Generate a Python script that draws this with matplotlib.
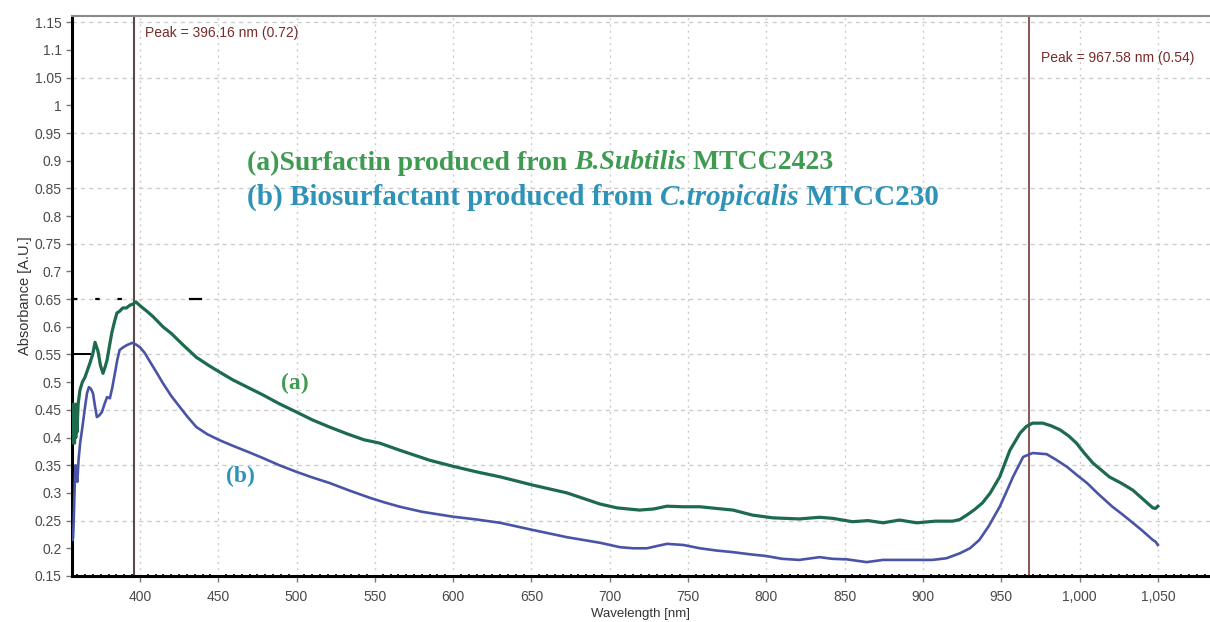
import matplotlib
matplotlib.use("Agg")
import matplotlib.pyplot as plt
from matplotlib.ticker import MultipleLocator, FuncFormatter

# ---- data ----
wl_a = [356.6, 357.0, 357.4, 357.8, 358.2, 358.6, 359.0, 359.4, 359.8, 360.5,
        361.7, 363.2, 364.9, 366.5, 368.0, 369.8, 371.3, 373.2, 374.8, 376.4,
        377.8, 379.0, 380.5, 382.0, 383.8, 385.3, 387.0, 389.0, 391.3, 393.6,
        395.5, 397.4, 400.5, 404.5, 408.5, 414.7, 420, 428, 436, 444,
        451, 459.4, 470, 478.5, 489, 500, 510, 521, 532, 543,
        553, 566, 585, 600, 615, 630, 651, 672.7, 693.7, 704.6,
        719, 728, 736.5, 747, 757.6, 768, 778.7, 791, 804, 821,
        834, 842.5, 855, 865, 874.5, 885, 896, 908, 919, 923.6,
        928, 933, 938, 943, 949, 955.5, 962, 966, 970, 976.6,
        982, 987.5, 993, 998, 1003, 1008.5, 1014, 1019, 1027, 1034,
        1040, 1046.8, 1048.5, 1050]
abs_a = [0.40, 0.46, 0.39, 0.46, 0.39, 0.46, 0.40, 0.46, 0.41, 0.46,
         0.486, 0.50, 0.509, 0.522, 0.534, 0.55, 0.572, 0.556, 0.53, 0.516,
         0.528, 0.54, 0.565, 0.589, 0.61, 0.625, 0.628, 0.634, 0.634, 0.639,
         0.641, 0.645, 0.637, 0.628, 0.618, 0.60, 0.588, 0.566, 0.545, 0.53,
         0.518, 0.504, 0.489, 0.477, 0.461, 0.446, 0.432, 0.419, 0.407, 0.396,
         0.39, 0.377, 0.359, 0.348, 0.338, 0.329, 0.314, 0.30, 0.28, 0.273,
         0.269, 0.271, 0.276, 0.275, 0.275, 0.272, 0.269, 0.26, 0.255, 0.253,
         0.256, 0.254, 0.248, 0.25, 0.246, 0.251, 0.246, 0.249, 0.249, 0.252,
         0.26, 0.27, 0.282, 0.30, 0.329, 0.377, 0.408, 0.42, 0.426, 0.426,
         0.421, 0.414, 0.403, 0.39, 0.372, 0.354, 0.341, 0.329, 0.317, 0.305,
         0.29, 0.273, 0.272, 0.276]

wl_b = [356.9, 357.3, 357.7, 358.1, 358.5, 358.9, 359.4, 360.0, 360.8, 361.8,
        363.0, 364.0, 364.9, 366.2, 367.4, 368.7, 370.0, 371.2, 372.5, 374.0,
        375.7, 377.3, 379.0, 380.8, 382.3, 384.0, 385.5, 387.0, 389.3, 391.7,
        395.0, 397.5, 400.0, 403, 406.4, 410.5, 414.7, 420, 425.5, 430.5,
        436, 443, 451, 459.4, 470, 478.5, 489, 500, 510, 521,
        534, 547, 556, 566, 580, 600, 615, 630, 651, 672.7,
        693.7, 706.5, 715, 723.7, 730, 736.5, 747, 757.6, 768, 778.7,
        790, 800, 810, 821, 834, 842, 851.5, 864, 874.5, 885,
        896, 906, 915, 923.6, 930, 936, 942, 949, 953, 957.5,
        964, 970, 979, 985, 992, 998, 1004.7, 1012, 1021, 1027,
        1034, 1040, 1046.8, 1048.5, 1050]
abs_b = [0.215, 0.22, 0.25, 0.29, 0.33, 0.35, 0.33, 0.32, 0.36, 0.39,
         0.414, 0.435, 0.455, 0.48, 0.491, 0.488, 0.48, 0.458, 0.437, 0.44,
         0.446, 0.46, 0.473, 0.471, 0.49, 0.516, 0.54, 0.558, 0.563, 0.567,
         0.571, 0.568, 0.563, 0.553, 0.537, 0.518, 0.498, 0.475, 0.455, 0.437,
         0.419, 0.406, 0.395, 0.385, 0.373, 0.363, 0.35, 0.338, 0.328, 0.318,
         0.304, 0.291, 0.283, 0.275, 0.266, 0.257, 0.252, 0.246, 0.233, 0.22,
         0.21, 0.202, 0.20, 0.20, 0.204, 0.208, 0.206, 0.20, 0.196, 0.193,
         0.189, 0.186, 0.181, 0.179, 0.184, 0.181, 0.18, 0.175, 0.179, 0.179,
         0.179, 0.179, 0.182, 0.191, 0.20, 0.215, 0.24, 0.275, 0.30, 0.329,
         0.365, 0.372, 0.37, 0.36, 0.347, 0.333, 0.318, 0.298, 0.275, 0.262,
         0.246, 0.232, 0.215, 0.212, 0.206]

peak_wl = [396.16, 967.58]
peak_labels = ["Peak = 396.16 nm (0.72)", "Peak = 967.58 nm (0.54)"]

GREEN_LINE = "#1d6a4c"
BLUE_LINE = "#4a54a6"
GREEN_TXT = "#3f9a52"
BLUE_TXT = "#2f93b8"

fig = plt.figure(figsize=(12.1, 6.22), dpi=100)
ax = fig.add_axes([0.0595, 0.074, 0.9405, 0.9])
ax.set_xlim(356.6, 1083.3)
ax.set_ylim(0.15, 1.161)

# grid: vertical every 50 nm, horizontal every 0.1 (0.25, 0.35, ...)
for x in range(400, 1100, 50):
    ax.axvline(x, color="#cccccc", lw=1, ls=(0, (1.5, 3)), zorder=0)
for i in range(10):
    ax.axhline(0.25 + 0.1 * i, color="#cccccc", lw=1, ls=(0, (3, 3)), zorder=0)

# stray black dashes from the original plot
ax.plot([357, 392], [0.65, 0.65], color="black", lw=1.6, ls=(0, (2, 8)), zorder=1)
ax.plot([432, 439], [0.65, 0.65], color="black", lw=1.6, zorder=1)
ax.plot([357, 368], [0.55, 0.55], color="black", lw=1.4, zorder=1)

ax.plot(wl_a, abs_a, color=GREEN_LINE, lw=2.3, zorder=3)
ax.plot(wl_b, abs_b, color=BLUE_LINE, lw=1.9, zorder=3)

ax.axvline(peak_wl[0], color="#5e4747", lw=1.5, zorder=2)
ax.axvline(peak_wl[1], color="#8c5a5a", lw=1.5, zorder=2)
ax.text(peak_wl[0] + 7, 1.130, peak_labels[0], color="#7a2a2a", fontsize=10,
        family="Liberation Sans", va="center")
ax.text(peak_wl[1] + 8, 1.085, peak_labels[1], color="#7a2a2a", fontsize=10,
        family="Liberation Sans", va="center")

# spines and ticks
ax.spines["left"].set_linewidth(2.2)
ax.spines["bottom"].set_linewidth(2.2)
ax.spines["top"].set_color("#8a8a8a")
ax.spines["top"].set_linewidth(1.5)
ax.spines["right"].set_visible(False)
ax.yaxis.set_major_locator(MultipleLocator(0.05))
ax.xaxis.set_major_locator(MultipleLocator(50))
ax.xaxis.set_minor_locator(MultipleLocator(5))
ax.yaxis.set_major_formatter(FuncFormatter(lambda v, p: f"{v:.2f}".rstrip("0").rstrip(".")))
ax.xaxis.set_major_formatter(FuncFormatter(lambda v, p: f"{v:,.0f}"))
ax.tick_params(axis="both", which="major", labelsize=10, labelcolor="#4a4a4a",
               color="#777777", length=4, width=1)
ax.tick_params(axis="x", which="major", pad=6)
ax.tick_params(axis="x", which="minor", length=3, width=1.2, color="black",
               direction="inout")
for lab in ax.get_xticklabels() + ax.get_yticklabels():
    lab.set_family("Liberation Sans")

ax.set_xlabel("Wavelength [nm]", fontsize=9.5, color="#333333",
              family="Liberation Sans", labelpad=3)
ax.set_ylabel("Absorbance [A.U.]", fontsize=10.5, color="#333333",
              family="Liberation Sans", labelpad=2)

# legend-style caption with italic species names
renderer = fig.canvas.get_renderer()


def rich_line(x0, y0, parts, color, size):
    x = x0
    for txt, style in parts:
        t = fig.text(x, y0, txt, color=color, fontsize=size, weight="bold",
                     style=style, family="Liberation Serif", va="center")
        bb = t.get_window_extent(renderer)
        x += bb.width / fig.bbox.width


rich_line(247 / 1210, 1 - 163 / 622,
          [("(a)Surfactin produced fron ", "normal"), ("B.Subtilis", "italic"),
           (" MTCC2423", "normal")], GREEN_TXT, 20)
rich_line(247 / 1210, 1 - 197 / 622,
          [("(b) Biosurfactant produced from ", "normal"), ("C.tropicalis", "italic"),
           (" MTCC230", "normal")], BLUE_TXT, 21)

ax.text(499, 0.497, "(a)", color=GREEN_TXT, fontsize=17, weight="bold",
        family="Liberation Serif", ha="center", va="center")
ax.text(464, 0.33, "(b)", color=BLUE_TXT, fontsize=17, weight="bold",
        family="Liberation Serif", ha="center", va="center")

fig.savefig("out.png", dpi=100)
